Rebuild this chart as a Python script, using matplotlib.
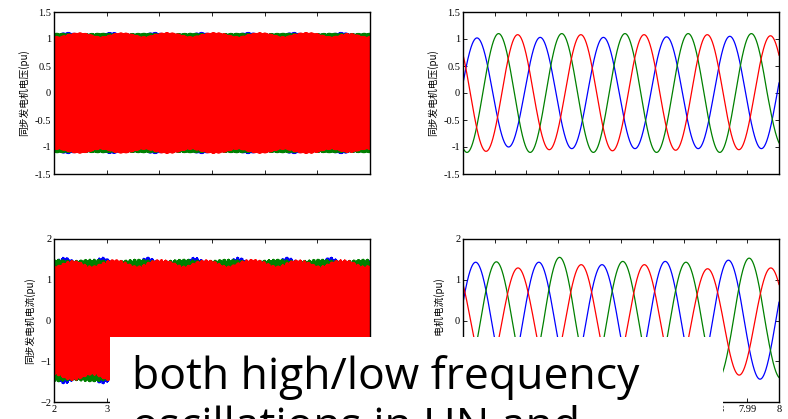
import numpy as np
import matplotlib
matplotlib.use("Agg")
import matplotlib.pyplot as plt

# ---- data ----
f_grid = 50.0                      # Hz
t_long = (2.0, 8.0)                # s, left column
t_zoom = (7.9, 8.0)                # s, right column

# left column: envelope (pu) of each phase; red sags at the beat centres,
# green shows in the sag and blue peeks out just after it
volt_base = {"b": 1.10, "g": 1.10, "r": 1.125}
volt_bump = {"b": 0.025, "g": 0.01, "r": -0.08}
volt_beat_t = [2.06, 2.89, 3.71, 4.60, 5.49, 6.35, 7.26, 7.94]
curr_base = {"b": 1.47, "g": 1.47, "r": 1.51}
curr_bump = {"b": 0.09, "g": 0.04, "r": -0.17}
curr_beat_t = [2.0, 2.72, 3.58, 4.47, 5.30, 6.23, 7.05, 7.90]
blue_lag = 0.2                     # s, blue fringe sits right after the green one
phase_shift = {"b": 0.0, "g": -2 * np.pi / 3, "r": 2 * np.pi / 3}

# right column: first extremum time (ms after 7.9 s) and successive extremum values (pu)
volt_t0 = {"b": -5.57, "g": -8.74, "r": -2.7}
volt_ext = {
    "b": [-1.0, 1.02, -1.0, 1.03, -1.03, 1.03, -1.03, 1.04, -1.03, 1.05, -1.03, 1.04],
    "g": [1.05, -1.1, 1.1, -1.1, 1.1, -1.1, 1.1, -1.1, 1.1, -1.1, 1.1, -1.0],
    "r": [1.08, -1.08, 1.08, -1.05, 1.08, -1.07, 1.08, -1.06, 1.08, -1.05, 1.06, -1.05],
}
curr_t0 = {"b": -6.0, "g": 0.56, "r": -2.6}
curr_ext = {
    "b": [-1.4, 1.43, -1.45, 1.43, -1.45, 1.37, -1.45, 1.45, -1.45, 1.48, -1.44, 1.45],
    "g": [-1.45, 1.44, -1.45, 1.55, -1.45, 1.45, -1.45, 1.43, -1.45, 1.53, -1.42],
    "r": [1.3, -1.35, 1.29, -1.35, 1.37, -1.35, 1.37, -1.35, 1.27, -1.34, 1.29, -1.3],
}

volt_ticks = [-1.5, -1, -0.5, 0, 0.5, 1, 1.5]
curr_ticks = [-2, -1, 0, 1, 2]
long_ticks = [2, 3, 4, 5, 6, 7, 8]
zoom_ticks = [7.9, 7.91, 7.92, 7.93, 7.94, 7.95, 7.96, 7.97, 7.98, 7.99, 8.0]
volt_label = "同步发电机电压(pu)"
curr_label = "同步发电机电流(pu)"
note_lines = ["both high/low frequency", "oscillations in UN and"]


def long_wave(ph, base, bump, beat_t, step, width):
    t = np.arange(t_long[0], t_long[1], step)
    env = np.full_like(t, base[ph])
    lag = blue_lag if ph == "b" else 0.0
    w = width * 0.5 if ph == "b" else width
    for tb in beat_t:
        env += bump[ph] * np.exp(-((t - tb - lag) / w) ** 2)
    return t, env * np.sin(2 * np.pi * f_grid * t + phase_shift[ph])


def zoom_wave(ph, t0, ext):
    ms = np.linspace(0, 100, 1500)
    half = 500.0 / f_grid          # half period in ms
    k = np.clip(np.round((ms - t0[ph]) / half).astype(int), 0, len(ext[ph]) - 1)
    vals = np.array(ext[ph])[k] * np.cos(np.pi * (ms - t0[ph] - k * half) / half)
    return t_zoom[0] + ms / 1000.0, vals


fig = plt.figure(figsize=(7.88, 4.19), dpi=100)
W, H = 788, 419
boxes = [(54, 12, 370, 174), (463, 12, 779, 174), (54, 239, 370, 402), (463, 239, 779, 402)]
axs = [fig.add_axes([x0 / W, 1 - y1 / H, (x1 - x0) / W, (y1 - y0) / H]) for x0, y0, x1, y1 in boxes]

order = ["b", "g", "r"]
for ph in order:
    axs[0].plot(*long_wave(ph, volt_base, volt_bump, volt_beat_t, 0.0011, 0.24), color=ph, lw=0.7)
    axs[2].plot(*long_wave(ph, curr_base, curr_bump, curr_beat_t, 0.0017, 0.24), color=ph, lw=0.7)
    axs[1].plot(*zoom_wave(ph, volt_t0, volt_ext), color=ph, lw=0.9)
    axs[3].plot(*zoom_wave(ph, curr_t0, curr_ext), color=ph, lw=0.9)

for i, ax in enumerate(axs):
    volt = i < 2
    ax.set_xlim(*(t_long if i % 2 == 0 else t_zoom))
    ax.set_xticks(long_ticks if i % 2 == 0 else zoom_ticks)
    if volt:
        ax.set_ylim(-1.5, 1.5)
        ax.set_yticks(volt_ticks)
        ax.set_yticklabels(["-1.5", "-1", "-0.5", "0", "0.5", "1", "1.5"])
        ax.set_xticklabels([])
    else:
        ax.set_ylim(-2, 2)
        ax.set_yticks(curr_ticks)
        if i == 2:
            ax.set_xticklabels([str(v) for v in long_ticks])
        else:
            ax.set_xticklabels(["%g" % v for v in zoom_ticks])
    ax.tick_params(direction="in", length=3, width=0.6, top=True, right=True, pad=2)
    for lab in ax.get_xticklabels() + ax.get_yticklabels():
        lab.set_family("Liberation Serif")
        lab.set_fontsize(7.5)
    for sp in ax.spines.values():
        sp.set_linewidth(1.0)
    ax.set_ylabel(volt_label if volt else curr_label,
                  family=["Noto Sans CJK SC", "DejaVu Sans"], fontsize=7, labelpad=4)

# white note box pasted over the lower part of the screenshot
note = fig.add_axes([110 / W, 0, (723 - 110) / W, (419 - 337) / H], zorder=10)
note.set_facecolor("white")
note.set_xticks([])
note.set_yticks([])
for sp in note.spines.values():
    sp.set_visible(False)
bh = (419 - 337)
note.text((132 - 110) / 613, (419 - 389) / bh, note_lines[0], family="Open Sans",
          fontsize=32, va="baseline", ha="left", transform=note.transAxes)
note.text((132 - 110) / 613, (419 - 439) / bh, note_lines[1], family="Open Sans",
          fontsize=32, va="baseline", ha="left", transform=note.transAxes, clip_on=False)

fig.savefig("out.png", dpi=100)
